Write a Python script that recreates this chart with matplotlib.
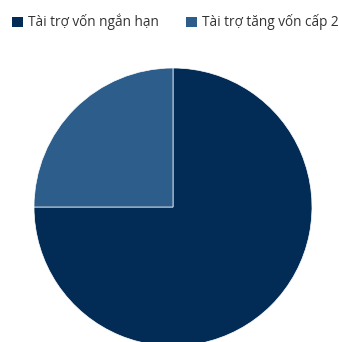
import matplotlib
matplotlib.use("Agg")
import matplotlib.pyplot as plt
from matplotlib.patches import Patch

labels = ["Tài trợ vốn ngắn hạn", "Tài trợ tăng vốn cấp 2"]
values = [75, 25]
colors = ["#022b55", "#2d5d8a"]

plt.rcParams["font.family"] = ["Open Sans", "DejaVu Sans"]

fig = plt.figure(figsize=(3.39, 3.42), dpi=100)
W, H = 339, 342
cx, cy, r = 173, 207, 139
ax = fig.add_axes([(cx - r) / W, (H - cy - r) / H, 2 * r / W, 2 * r / H])
ax.pie(values, colors=colors, startangle=90, counterclock=False,
       wedgeprops=dict(edgecolor="white", linewidth=0.5))
ax.set_xlim(-1, 1)
ax.set_ylim(-1, 1)
ax.set_aspect("equal")
ax.axis("off")

handles = [Patch(facecolor=c, edgecolor="none") for c in colors]
fig.legend(handles, labels, loc="upper left", bbox_to_anchor=(0.0, 0.995),
           ncol=2, frameon=False, fontsize=9.8, handlelength=0.8,
           handleheight=0.8, handletextpad=0.35, columnspacing=2.0,
           labelcolor="#333333")

fig.savefig("out.png", dpi=100)
